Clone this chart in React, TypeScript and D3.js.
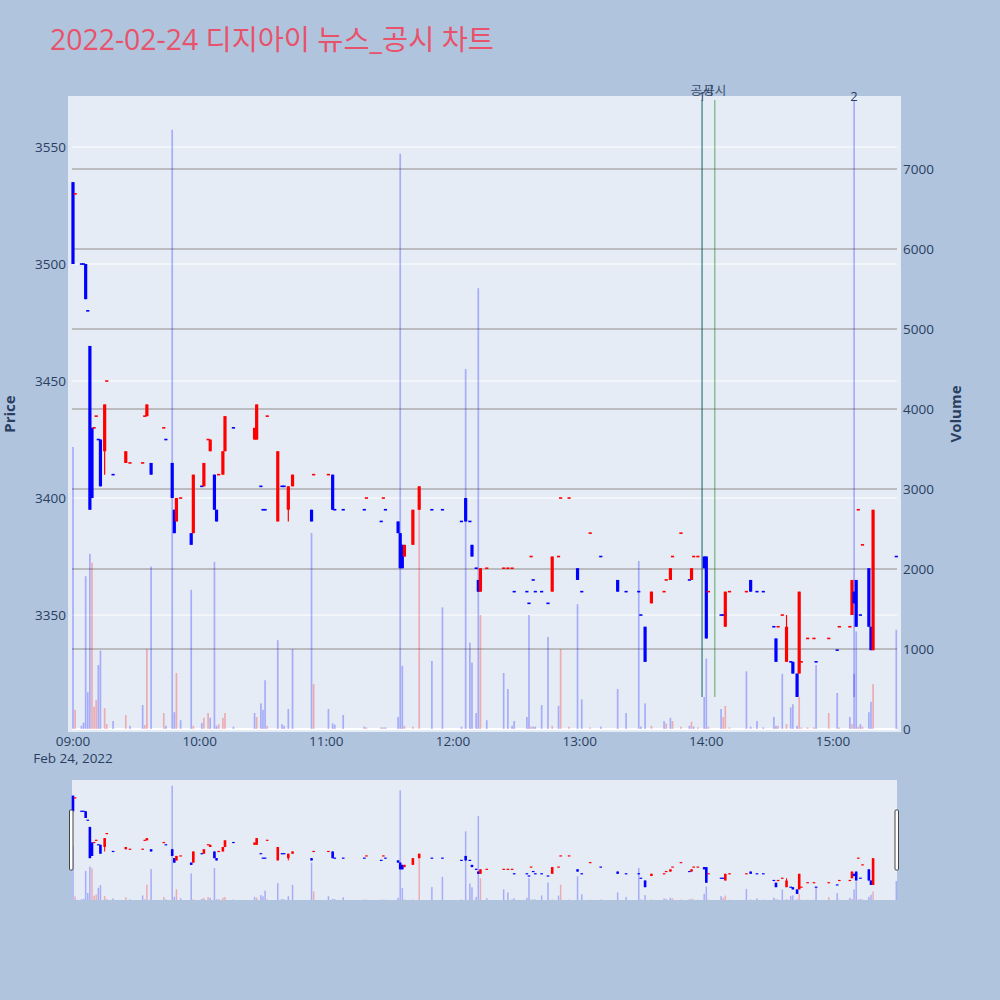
import React from 'react';
import * as d3 from 'd3';

// ---- data (1-minute candles, 2022-02-24) ----
const times = [
  '09:00','09:01','09:04','09:05','09:06','09:07','09:08','09:09','09:10','09:11',
  '09:12','09:13','09:15','09:16','09:19','09:25','09:27','09:33','09:34','09:35',
  '09:37','09:43','09:44','09:47','09:48','09:49','09:51','09:56','09:57','10:01',
  '10:02','10:04','10:05','10:07','10:08','10:09','10:11','10:12','10:16','10:26',
  '10:27','10:29','10:30','10:31','10:32','10:37','10:39','10:40','10:42','10:44',
  '10:53','10:54','11:01','11:03','11:04','11:08','11:18','11:19','11:26','11:27',
  '11:28','11:34','11:35','11:36','11:37','11:41','11:44','11:50','11:55','12:04',
  '12:06','12:08','12:09','12:11','12:12','12:13','12:16','12:24','12:26','12:28',
  '12:29','12:35','12:36','12:37','12:38','12:39','12:42','12:45','12:47','12:50',
  '12:51','12:55','12:59','13:01','13:05','13:10','13:18','13:22','13:28','13:29',
  '13:31','13:34','13:40','13:41','13:43','13:44','13:48','13:52','13:53','13:54',
  '13:56','13:59','14:00','14:01','14:07','14:08','14:09','14:11','14:19','14:21',
  '14:24','14:27','14:32','14:33','14:34','14:36','14:38','14:40','14:41','14:43',
  '14:44','14:45','14:48','14:51','14:52','14:58','15:02','15:03','15:08','15:09',
  '15:10','15:11','15:12','15:13','15:14','15:17','15:18','15:19','15:30'
];
const opens = [
  3535,3530,3500,3500,3500,3480,3465,3430,3430,3435,
  3425,3425,3420,3450,3410,3415,3415,3415,3435,3435,
  3415,3430,3425,3415,3395,3390,3400,3385,3385,3405,
  3405,3425,3420,3410,3395,3410,3410,3420,3430,3425,
  3425,3405,3395,3395,3435,3390,3405,3405,3395,3405,
  3395,3410,3410,3410,3395,3395,3395,3400,3390,3400,
  3395,3390,3385,3380,3375,3380,3395,3395,3395,3390,
  3400,3390,3380,3370,3365,3360,3370,3370,3370,3370,
  3360,3360,3355,3375,3365,3360,3360,3355,3360,3375,
  3400,3400,3370,3360,3385,3375,3365,3360,3360,3350,
  3345,3355,3360,3365,3365,3375,3385,3365,3365,3375,
  3375,3375,3375,3360,3350,3350,3345,3360,3360,3365,
  3360,3360,3345,3340,3345,3350,3330,3330,3330,3325,
  3325,3330,3340,3340,3330,3340,3335,3345,3345,3350,
  3360,3365,3395,3350,3380,3370,3345,3335,3375
];
const highs = [
  3535,3530,3500,3500,3500,3480,3465,3430,3430,3435,
  3425,3425,3440,3450,3410,3420,3415,3415,3435,3440,
  3415,3430,3425,3415,3395,3400,3400,3385,3410,3405,
  3415,3425,3425,3410,3395,3410,3420,3435,3430,3430,
  3440,3405,3395,3395,3435,3420,3405,3405,3405,3410,
  3395,3410,3410,3410,3395,3395,3395,3400,3390,3400,
  3395,3390,3385,3380,3380,3395,3405,3395,3395,3390,
  3400,3390,3380,3370,3365,3370,3370,3370,3370,3370,
  3360,3360,3355,3375,3365,3360,3360,3355,3375,3375,
  3400,3400,3370,3360,3385,3375,3365,3360,3360,3350,
  3345,3360,3360,3365,3370,3375,3385,3365,3370,3375,
  3375,3375,3375,3360,3350,3350,3360,3360,3360,3365,
  3360,3360,3345,3340,3345,3350,3350,3330,3330,3325,
  3360,3330,3340,3340,3330,3340,3335,3345,3345,3365,
  3360,3365,3395,3350,3380,3370,3345,3395,3375
];
const lows = [
  3500,3530,3500,3500,3485,3480,3395,3400,3430,3435,
  3425,3405,3410,3450,3410,3415,3415,3415,3435,3435,
  3410,3430,3425,3400,3385,3390,3400,3380,3385,3405,
  3405,3425,3420,3395,3390,3410,3410,3420,3430,3425,
  3425,3405,3395,3395,3435,3390,3405,3405,3390,3405,
  3390,3410,3410,3395,3395,3395,3395,3400,3390,3400,
  3395,3385,3370,3370,3375,3380,3395,3395,3395,3390,
  3390,3390,3375,3370,3360,3360,3370,3370,3370,3370,
  3360,3360,3355,3375,3365,3360,3360,3355,3360,3375,
  3400,3400,3365,3360,3385,3375,3360,3360,3360,3350,
  3330,3355,3360,3365,3365,3375,3385,3365,3365,3375,
  3375,3370,3340,3360,3350,3350,3345,3360,3360,3360,
  3360,3360,3345,3330,3345,3350,3330,3330,3325,3315,
  3325,3330,3340,3340,3330,3340,3335,3345,3345,3350,
  3355,3345,3395,3350,3380,3345,3335,3335,3375
];
const closes = [
  3500,3530,3500,3500,3485,3480,3395,3400,3430,3435,
  3425,3405,3440,3450,3410,3420,3415,3415,3435,3440,
  3410,3430,3425,3400,3385,3400,3400,3380,3410,3405,
  3415,3425,3425,3395,3390,3410,3420,3435,3430,3430,
  3440,3405,3395,3395,3435,3420,3405,3405,3405,3410,
  3390,3410,3410,3395,3395,3395,3395,3400,3390,3400,
  3395,3385,3370,3370,3380,3395,3405,3395,3395,3390,
  3390,3390,3375,3370,3360,3370,3370,3370,3370,3370,
  3360,3360,3355,3375,3365,3360,3360,3355,3375,3375,
  3400,3400,3365,3360,3385,3375,3360,3360,3360,3350,
  3330,3360,3360,3365,3370,3375,3385,3365,3370,3375,
  3375,3370,3340,3360,3350,3350,3360,3360,3360,3360,
  3360,3360,3345,3330,3345,3350,3345,3330,3325,3315,
  3360,3330,3340,3340,3330,3340,3335,3345,3345,3365,
  3355,3345,3395,3350,3380,3345,3335,3395,3375
];
// 1 = rising (red), 0 = falling (blue)
const candleUp = [
  0,1,0,0,0,0,0,0,1,1,
  0,0,1,1,0,1,1,1,1,1,
  0,1,0,0,0,1,1,0,1,0,
  1,1,1,0,0,1,1,1,0,1,
  1,0,0,0,1,1,0,0,1,1,
  0,1,1,0,0,0,0,1,0,1,
  0,0,0,0,1,1,1,0,0,0,
  0,0,0,0,0,1,1,1,1,1,
  0,0,0,1,0,0,0,0,1,1,
  1,1,0,0,1,0,0,0,0,0,
  0,1,1,1,1,1,1,0,1,1,
  1,0,0,1,0,0,1,1,1,0,
  0,0,0,0,1,1,1,0,0,0,
  1,1,1,1,0,1,0,1,1,1,
  0,0,1,0,1,0,0,1,0
];
const volumes = [
  3525,240,40,80,1910,460,2190,2080,280,360,
  800,980,260,60,100,175,40,300,50,1000,
  2030,200,40,7490,210,700,110,1740,40,75,
  140,200,140,2090,40,60,140,200,30,200,
  150,320,240,610,40,1110,60,40,250,1000,
  2450,560,250,70,55,175,30,20,20,20,
  20,150,7190,790,40,30,2900,850,1520,30,
  4500,1080,830,200,5510,1425,110,700,500,40,
  100,150,1425,30,30,30,300,1150,40,290,
  1000,30,1560,370,20,30,500,200,2100,30,
  320,40,100,70,140,100,30,40,90,30,
  20,400,880,30,250,150,290,20,720,30,
  100,20,150,40,40,690,60,270,310,40,
  400,20,20,20,800,200,450,20,150,60,
  690,1220,30,60,30,210,340,560,1240
];
const volUp = [
  0,1,0,0,0,0,0,1,1,1,
  0,0,1,1,0,1,0,0,1,1,
  0,1,0,0,0,1,0,0,1,0,
  1,1,0,0,0,1,1,1,0,0,
  1,0,0,0,1,0,0,0,0,0,
  0,1,0,0,0,0,0,1,0,1,
  0,0,0,0,1,1,1,0,0,0,
  0,0,0,0,0,1,0,0,0,0,
  0,0,0,1,0,0,0,0,1,0,
  1,1,0,0,1,0,0,0,0,0,
  0,1,0,1,0,1,1,0,1,0,
  1,0,0,1,0,1,1,1,0,0,
  0,0,0,0,1,0,1,0,0,0,
  1,1,1,1,0,1,0,1,0,1,
  0,0,1,0,1,0,0,1,0
];

const priceTicks = [3350, 3400, 3450, 3500, 3550];
const volumeTicks = [0, 1000, 2000, 3000, 4000, 5000, 6000, 7000];
const timeTicks = ['09:00', '10:00', '11:00', '12:00', '13:00', '14:00', '15:00'];

// event markers: news (numbered, blue) and disclosures (공시, green)
const newsTimes = ['13:58', '15:10'];
const newsLabels = ['1', '2'];
const disclosureTimes = ['13:58', '14:04'];
const disclosureLabel = '공시';

const title = '2022-02-24 디지아이 뉴스_공시 차트';

const FONT = "'Open Sans', 'Noto Sans CJK KR', verdana, arial, sans-serif";
const TXT = '#2a3f5f';

function toDate(t: string): Date {
  const [h, m] = t.split(':').map(Number);
  return new Date(2022, 1, 24, h, m, 0);
}

export default function App() {
  const base = toDate('09:00').getTime();
  const x = d3
    .scaleTime()
    .domain([new Date(base - 0.47 * 60000), new Date(base + 390.33 * 60000)])
    .range([72, 897]);
  const yP = d3.scaleLinear().domain([3301.3, 3570.1]).range([729, 100]);
  const yV = d3.scaleLinear().domain([0, 7862]).range([729, 100]);
  const ysP = d3.scaleLinear().domain([3301.3, 3570.1]).range([900, 780]);
  const ysV = d3.scaleLinear().domain([0, 7862]).range([900, 780]);
  const fmt = d3.timeFormat('%H:%M');

  const data = times.map((t, i) => ({
    d: toDate(t),
    o: opens[i],
    h: highs[i],
    l: lows[i],
    c: closes[i],
    v: volumes[i],
    up: candleUp[i] === 1,
    vup: volUp[i] === 1,
  }));

  const renderCandles = (py: d3.ScaleLinear<number, number>, bodyW: number, minH: number, wickW: number) =>
    data.map((k, i) => {
      const cx = x(k.d);
      const col = k.up ? '#ff0000' : '#0000ff';
      const top = py(Math.max(k.o, k.c));
      const bot = py(Math.min(k.o, k.c));
      const hgt = Math.max(bot - top, minH);
      const yTop = bot - top < minH ? (top + bot) / 2 - minH / 2 : top;
      return (
        <g key={i}>
          {k.h !== k.l && (
            <line x1={cx} x2={cx} y1={py(k.h)} y2={py(k.l)} stroke={col} strokeWidth={wickW} />
          )}
          <rect x={cx - bodyW / 2} y={yTop} width={bodyW} height={hgt} fill={col} />
        </g>
      );
    });

  const renderVolumes = (vy: d3.ScaleLinear<number, number>, w: number) =>
    data.map((k, i) => {
      const cx = x(k.d);
      return (
        <rect
          key={i}
          x={cx - w / 2}
          y={vy(k.v)}
          width={w}
          height={vy(0) - vy(k.v)}
          fill={k.vup ? 'rgba(255,0,0,0.27)' : 'rgba(0,0,255,0.27)'}
        />
      );
    });

  return (
    <svg
      width={1000}
      height={1000}
      style={{ position: 'absolute', left: 0, top: 0, display: 'block' }}
      fontFamily={FONT}
    >
      <rect x={0} y={0} width={1000} height={1000} fill="#b0c4de" />
      <text x={50} y={50} fontSize={28.4} fill="#e8536b">
        {title}
      </text>

      {/* main plot */}
      <rect x={68} y={96} width={833} height={636} fill="#e5ecf6" />
      {priceTicks.map((p) => (
        <line key={'pg' + p} x1={72} x2={897} y1={yP(p)} y2={yP(p)} stroke="#ffffff" strokeWidth={1} />
      ))}
      {volumeTicks
        .filter((v) => v > 0)
        .map((v) => (
          <line key={'vg' + v} x1={72} x2={897} y1={yV(v)} y2={yV(v)} stroke="#adadad" strokeWidth={1.5} />
        ))}
      <line x1={72} x2={897} y1={yV(0)} y2={yV(0)} stroke="#ffffff" strokeWidth={2} />

      {renderVolumes(yV, 1.7)}
      {renderCandles(yP, 3.2, 1.6, 1.2)}

      {/* event lines: news first, disclosures over them */}
      {newsTimes.map((t, i) => (
        <line
          key={'nl' + i}
          x1={x(toDate(t))}
          x2={x(toDate(t))}
          y1={yP(3315)}
          y2={100}
          stroke="rgba(0,0,255,0.3)"
          strokeWidth={1.5}
        />
      ))}
      {disclosureTimes.map((t, i) => (
        <line
          key={'dl' + i}
          x1={x(toDate(t))}
          x2={x(toDate(t))}
          y1={yP(3315)}
          y2={100}
          stroke="rgba(0,128,0,0.4)"
          strokeWidth={1.5}
        />
      ))}
      {disclosureTimes.map((t, i) => (
        <text key={'dt' + i} x={x(toDate(t))} y={95} fontSize={12.5} fill={TXT} textAnchor="middle" opacity={0.9}>
          {disclosureLabel}
        </text>
      ))}
      {newsTimes.map((t, i) => (
        <text key={'nt' + i} x={x(toDate(t))} y={101} fontSize={13} fill={TXT} textAnchor="middle">
          {newsLabels[i]}
        </text>
      ))}

      {/* axes labels */}
      {priceTicks.map((p) => (
        <text key={'pt' + p} x={66} y={yP(p) + 4.8} fontSize={13.5} fill={TXT} textAnchor="end">
          {p}
        </text>
      ))}
      {volumeTicks.map((v) => (
        <text key={'vt' + v} x={903} y={yV(v) + 4.8} fontSize={13.5} fill={TXT} textAnchor="start">
          {v}
        </text>
      ))}
      {timeTicks.map((t) => (
        <text key={'xt' + t} x={x(toDate(t))} y={746} fontSize={13.5} fill={TXT} textAnchor="middle">
          {fmt(toDate(t))}
        </text>
      ))}
      <text x={x(toDate('09:00'))} y={763} fontSize={13.5} fill={TXT} textAnchor="middle">
        Feb 24, 2022
      </text>
      <text transform="translate(15,414) rotate(-90)" fontSize={15} fontWeight="bold" fill={TXT} textAnchor="middle">
        Price
      </text>
      <text transform="translate(961,414) rotate(-90)" fontSize={15} fontWeight="bold" fill={TXT} textAnchor="middle">
        Volume
      </text>

      {/* range slider */}
      <rect x={72} y={780} width={825} height={120} fill="#e5ecf6" />
      <g>
        {renderVolumes(ysV, 1.5)}
        {renderCandles(ysP, 2.6, 1.2, 1)}
      </g>
      <rect x={69.5} y={810} width={3.5} height={60} rx={1} fill="#ffffff" stroke="#444444" strokeWidth={1} />
      <rect x={895} y={810} width={3.5} height={60} rx={1} fill="#ffffff" stroke="#444444" strokeWidth={1} />
    </svg>
  );
}
